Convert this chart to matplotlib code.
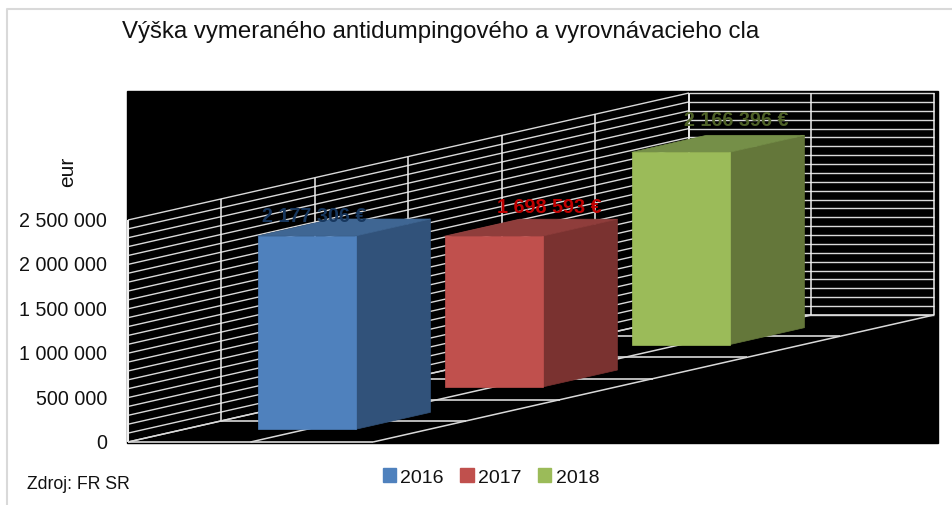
"""Pseudo-3D column chart: anti-dumping and countervailing duty per year (oblique projection)."""
import matplotlib.pyplot as plt
from matplotlib.patches import Patch, Polygon, Rectangle

YEARS = ["2016", "2017", "2018"]
VALUES = [2177306, 1698593, 2166396]
VALUE_LABELS = ["2 177 306 €", "1 698 593 €", "2 166 396 €"]
TICKS = [0, 500000, 1000000, 1500000, 2000000, 2500000]
TICK_LABELS = ["0", "500 000", "1 000 000", "1 500 000", "2 000 000", "2 500 000"]

FRONT = ["#4F81BD", "#C0504D", "#9BBB59"]
SIDE = ["#31527A", "#7A3230", "#64773A"]
TOP = ["#3F6693", "#8F3D3B", "#758F48"]
LABEL_COLORS = ["#17375E", "#C00000", "#4F6228"]
LABEL_SHIFT = [(8, -20), (56, -30), (56, -33)]
GRID = "#d9d9d9"

# projection, all in pixels of the 953x506 picture
X0, Y0 = 128, 443
WIDTH = 245
DEPTH_X, DEPTH_Y = 561, 127
VSCALE = 222 / 2500000


def project(u, value, depth):
    return (X0 + u * WIDTH + depth * DEPTH_X, Y0 - value * VSCALE - depth * DEPTH_Y)


def seg(ax, a, b, lw=1.0, color=GRID):
    ax.plot([a[0], b[0]], [a[1], b[1]], color=color, lw=lw, solid_capstyle="butt", zorder=2)


def main():
    plt.rcParams["font.family"] = ["Liberation Sans", "DejaVu Sans"]
    fig = plt.figure(figsize=(9.53, 5.06), dpi=100)
    ax = fig.add_axes([0, 0, 1, 1])
    ax.set_xlim(0, 953)
    ax.set_ylim(506, 0)
    ax.axis("off")

    # outer frame, only left and top are visible
    ax.plot([7.5, 7.5, 953], [506, 9.5, 9.5], color="#d9d9d9", lw=1.5, zorder=1)
    ax.add_patch(Rectangle((127, 92), 811, 351.5, color="black", zorder=1))

    # side wall and back wall minor gridlines, every 100 000
    for v in range(0, 2500001, 100000):
        seg(ax, project(0, v, 0), project(0, v, 1))
        seg(ax, project(0, v, 1), project(1, v, 1))
    for i in range(7):
        d = i / 6
        seg(ax, project(0, 0, d), project(0, 2500000, d), lw=1.5 if i == 0 else 1.1, color="#eeeeee")
        seg(ax, project(0, 0, d), project(1, 0, d), lw=1.2)
    for u in [0, 0.5, 1]:
        seg(ax, project(u, 0, 0), project(u, 0, 1), lw=1.1)
        seg(ax, project(u, 0, 1), project(u, 2500000, 1), lw=1.1, color="#eeeeee")

    # columns, back to front
    for i in reversed(range(3)):
        c = (i + 0.5) / 3
        d0, d1 = c - 0.0667, c + 0.0667
        u0, u1 = 0.3, 0.7
        v = VALUES[i]
        ax.add_patch(Polygon([project(u1, 0, d0), project(u1, 0, d1), project(u1, v, d1), project(u1, v, d0)],
                             fc=SIDE[i], ec=SIDE[i], lw=0.5, zorder=3))
        ax.add_patch(Polygon([project(u0, v, d0), project(u1, v, d0), project(u1, v, d1), project(u0, v, d1)],
                             fc=TOP[i], ec=TOP[i], lw=0.5, zorder=3))
        ax.add_patch(Polygon([project(u0, 0, d0), project(u1, 0, d0), project(u1, v, d0), project(u0, v, d0)],
                             fc=FRONT[i], ec=FRONT[i], lw=0.5, zorder=4))
        x, y = project(0.5, v, d0)
        ax.text(x + LABEL_SHIFT[i][0], y + LABEL_SHIFT[i][1], VALUE_LABELS[i], color=LABEL_COLORS[i],
                fontsize=14.2, fontweight="bold", ha="center", va="center", zorder=5)

    for v, lab in zip(TICKS, TICK_LABELS):
        ax.text(107, project(0, v, 0)[1] + 0.5, lab, ha="right", va="center", fontsize=14.1, color="#111111")

    ax.text(68, 172, "eur", rotation=90, ha="center", va="center", fontsize=15, color="#111111")
    ax.text(122, 32, "Výška vymeraného antidumpingového a vyrovnávacieho cla",
            ha="left", va="center", fontsize=17.3, color="#111111")
    ax.text(27, 485, "Zdroj: FR SR", ha="left", va="center", fontsize=12.7, color="#111111")

    handles = [Patch(color=c, label=y) for c, y in zip(FRONT, YEARS)]
    ax.legend(handles=handles, ncol=3, frameon=False, loc="center", bbox_to_anchor=(491, 478),
              bbox_transform=ax.transData, fontsize=14, handlelength=0.68, handleheight=0.68,
              handletextpad=0.22, columnspacing=0.85, labelcolor="#111111")

    fig.savefig("out.png", dpi=100)


if __name__ == "__main__":
    main()
